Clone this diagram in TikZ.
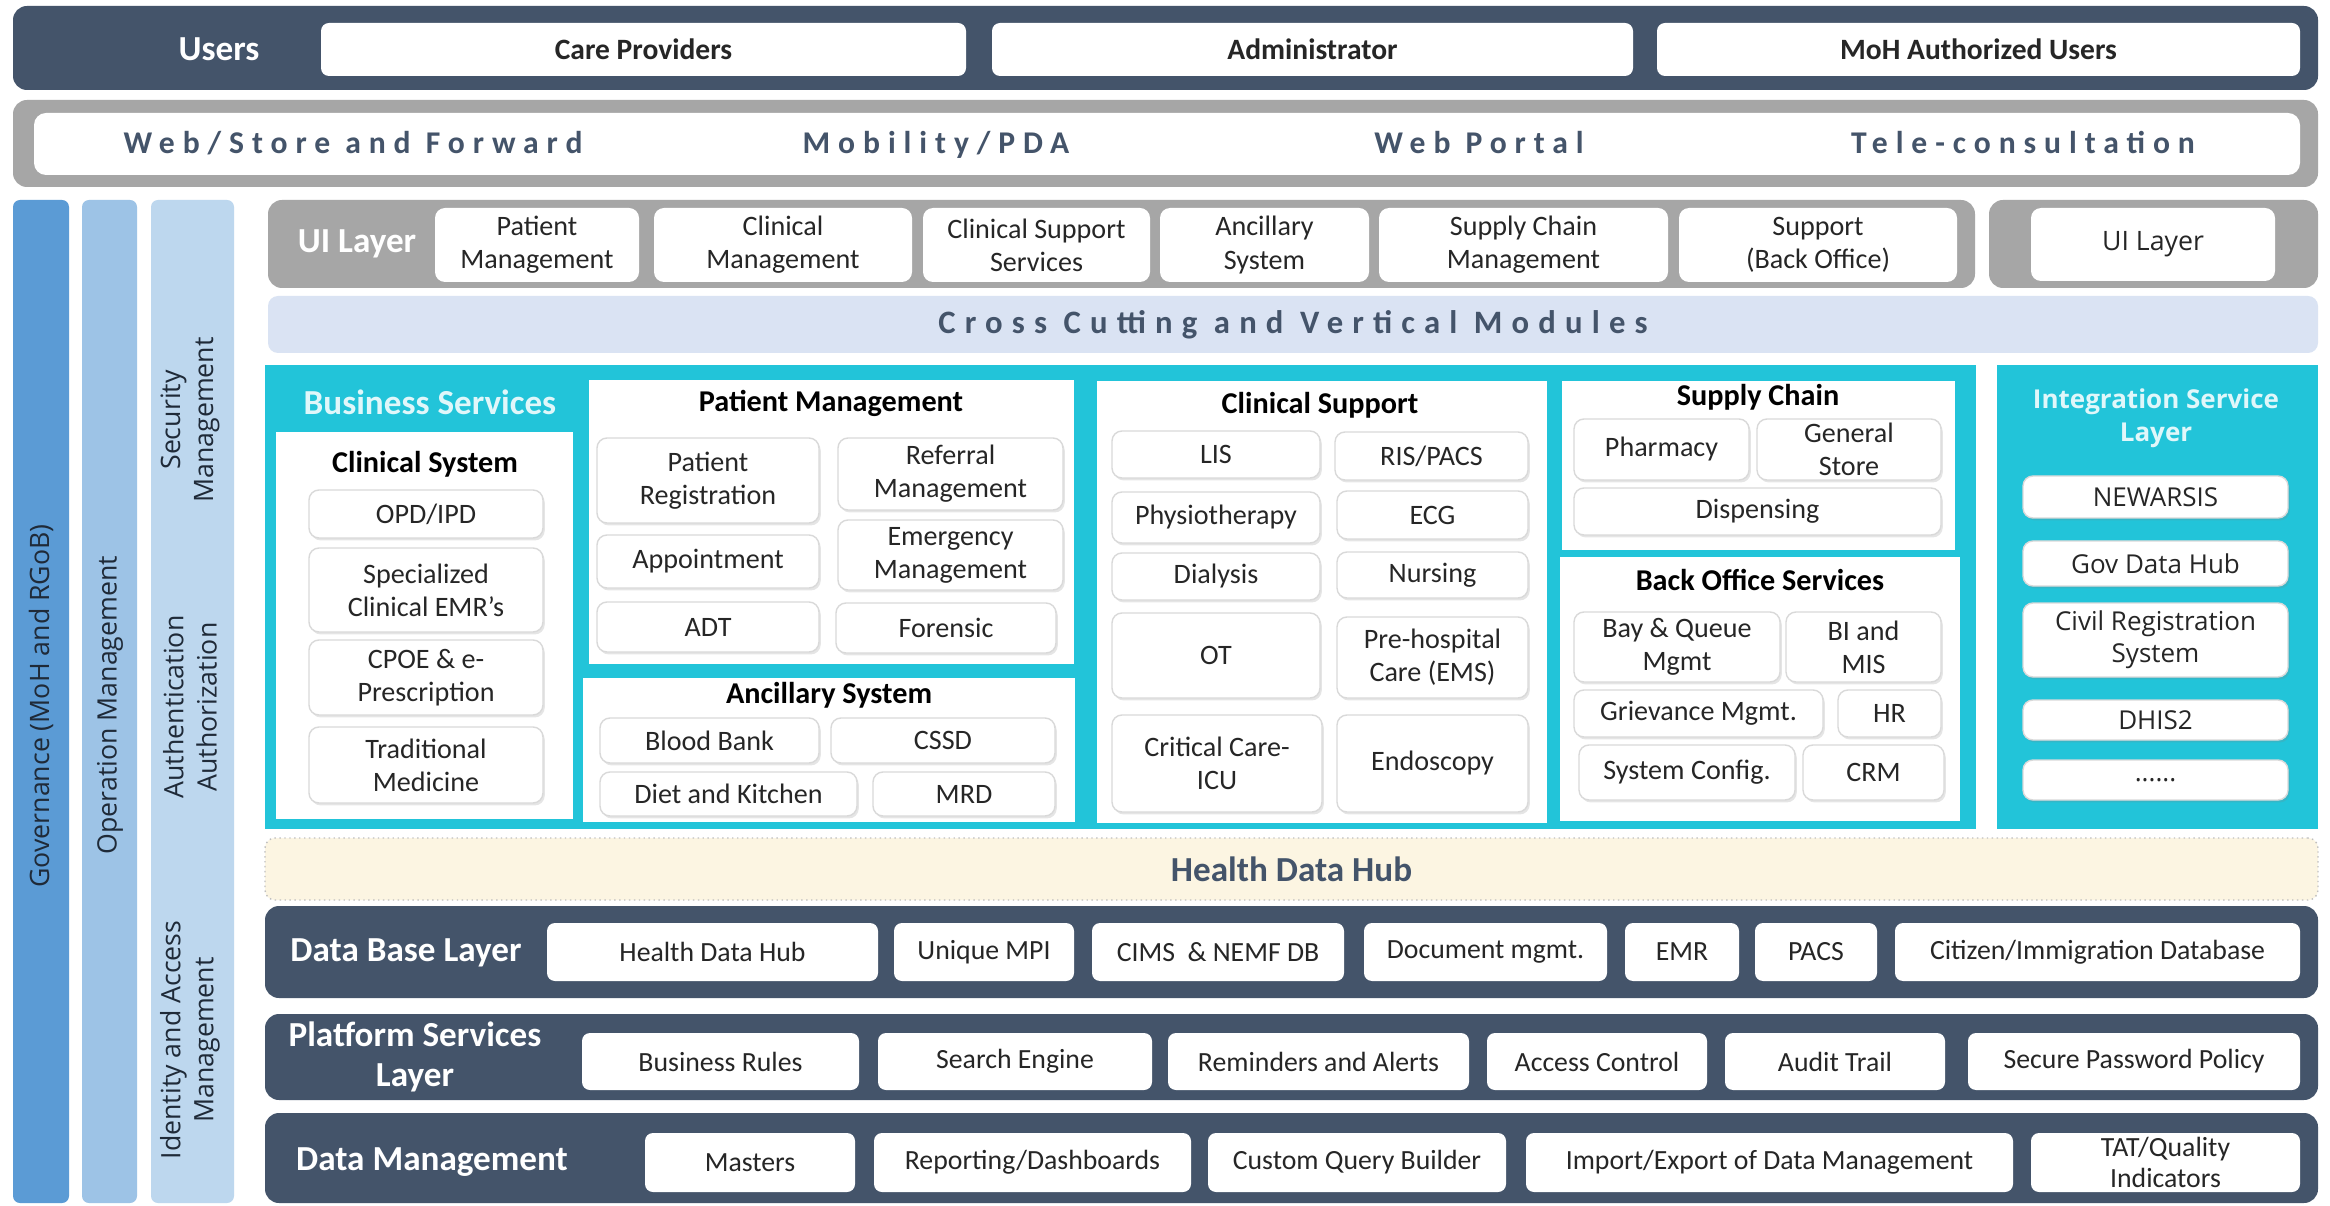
\documentclass[tikz,border=0pt]{standalone}
\usepackage{fontspec}
\setmainfont{Carlito}
\newfontfamily\osans{Open Sans}
\newfontfamily\wide[LetterSpace=25]{Carlito}
\newfontfamily\wider[LetterSpace=28]{Carlito}
\usetikzlibrary{fit}
\usetikzlibrary{shadows}
\definecolor{slate}{HTML}{44546A}
\definecolor{uigray}{HTML}{A6A6A6}
\definecolor{govblue}{HTML}{5B9BD5}
\definecolor{opblue}{HTML}{9DC3E6}
\definecolor{secblue}{HTML}{BDD7EE}
\definecolor{crossblue}{HTML}{DAE3F3}
\definecolor{aqua}{HTML}{22C4D9}
\definecolor{paleaqua}{HTML}{E0F7FA}
\definecolor{hubcream}{HTML}{FCF5E2}
\definecolor{ink}{HTML}{262626}
\definecolor{vink}{HTML}{1F2A38}

\begin{document}
\begin{tikzpicture}[x=0.1mm, y=-0.1mm,
    layerbar/.style={fill=slate, rounded corners=1.4mm, inner sep=0pt},
    graybar/.style={fill=uigray, rounded corners=1.4mm, inner sep=0pt},
    sidebar/.style={rounded corners=0.7mm, inner sep=0pt},
    sidelabel/.style={rotate=90, align=center, text=vink, font=\osans\fontsize{7.6}{9.4}\selectfont},
    barlabel/.style={align=center, text=white, font=\fontsize{10}{11.5}\selectfont\bfseries},
    usertext/.style={text=ink, font=\fontsize{8.4}{10}\selectfont\bfseries},
    userbox/.style={fill=white, rounded corners=0.8mm, inner sep=0pt, label={[usertext]center:{#1}}},
    spread/.style={text=slate, text height=1.55ex, text depth=0.45ex, font=\wide\fontsize{9}{11}\selectfont\bfseries},
    plaintext/.style={align=center, text=ink, font=\fontsize{8}{9.4}\selectfont},
    uibox/.style={fill=white, rounded corners=1mm, inner sep=0pt, label={[plaintext]center:{#1}}},
    panel/.style={fill=white, inner sep=0pt},
    paneltitle/.style={text=black, font=\fontsize{8.6}{10}\selectfont\bfseries},
    module/.style={fill=white, draw=black!15, rounded corners=1mm, inner sep=0pt, label={[plaintext]center:{#1}},
      drop shadow={opacity=0.2, shadow xshift=0.5pt, shadow yshift=-0.7pt}},
    inttext/.style={align=center, text=ink, font=\osans\fontsize{7.4}{9}\selectfont},
    intbox/.style={fill=white, draw=black!15, rounded corners=1mm, inner sep=0pt, label={[inttext]center:{#1}},
      drop shadow={opacity=0.2, shadow xshift=0.5pt, shadow yshift=-0.7pt}},
    layertext/.style={align=center, text=ink, font=\fontsize{7.9}{9}\selectfont},
    layerbox/.style={fill=white, rounded corners=0.8mm, inner sep=0pt, label={[layertext]center:{#1}}},
  ]
  \useasboundingbox[fill=white] (0,0) rectangle (2330,1206);

  % users
  \node[layerbar, fit={(13,6) (2318,90)}] (users) {};
  \node[barlabel] (usersT) at (219,49) {Users};
  \node[userbox={Care Providers}, fit={(321,23) (966,76)}] (care) {};
  \node[userbox={Administrator}, fit={(992,23) (1633,76)}] (admin) {};
  \node[userbox={MoH Authorized Users}, fit={(1657,23) (2300,76)}] (moh) {};

  % access channels
  \node[graybar, fit={(13,100) (2318,187)}] (chan) {};
  \node[fill=white, rounded corners=1.2mm, inner sep=0pt, fit={(34,113) (2300,175)}] (chanIn) {};
  \node[spread] (webT) at (353,144) {Web/Store and Forward};
  \node[spread] (mobT) at (936,144) {Mobility/PDA};
  \node[spread] (portT) at (1479,144) {Web Portal};
  \node[spread] (teleT) at (2023,144) {Tele-consultation};

  % side bars
  \node[sidebar, fill=govblue, fit={(13,200) (69,1203)}] (gov) {};
  \node[sidelabel] (govT) at (41,706) {Governance (MoH and RGoB)};
  \node[sidebar, fill=opblue, fit={(82,200) (137,1203)}] (ops) {};
  \node[sidelabel] (opsT) at (110,705) {Operation Management};
  \node[sidebar, fill=secblue, fit={(151,200) (234,1203)}] (sec) {};
  \node[sidelabel] (secT) at (190,420) {Security\\Management};
  \node[sidelabel] (authT) at (190,707) {Authentication\\Authorization};
  \node[sidelabel] (iamT) at (190,1040) {Identity and Access\\Management};

  % ui layer
  \node[graybar, fit={(268,200) (1975,288)}] (ui) {};
  \node[barlabel] (uiT) at (357,244) {UI Layer};
  \node[uibox={Patient\\Management}, fit={(435,208) (639,282)}] (uiPM) {};
  \node[uibox={Clinical\\Management}, fit={(654,208) (912,282)}] (uiCM) {};
  \node[uibox={Clinical Support\\Services}, fit={(923,208) (1150,282)}] (uiCS) {};
  \node[uibox={Ancillary\\System}, fit={(1160,208) (1369,282)}] (uiAS) {};
  \node[uibox={Supply Chain\\Management}, fit={(1379,208) (1668,282)}] (uiSC) {};
  \node[uibox={Support\\(Back Office)}, fit={(1679,208) (1957,282)}] (uiBO) {};
  \node[graybar, fit={(1989,200) (2318,288)}] (ui2) {};
  \node[fill=white, rounded corners=1mm, inner sep=0pt,
    label={[text=ink, font=\osans\fontsize{7.6}{9}\selectfont]center:UI Layer}, fit={(2031,208) (2275,281)}] (ui2B) {};

  \node[fill=crossblue, rounded corners=1mm, inner sep=0pt,
    label={[text=slate, font=\wider\fontsize{9.3}{11}\selectfont\bfseries]center:Cross Cutting and Vertical Modules},
    fit={(268,296) (2318,353)}] (cross) {};

  % business services
  \node[fill=aqua, inner sep=0pt, fit={(265,365) (1976,829)}] (biz) {};
  \node[text=paleaqua, font=\fontsize{10}{12}\selectfont\bfseries] (bizT) at (430,402) {Business Services};

  \node[panel, fit={(276,432) (573,819)}] (clin) {};
  \node[paneltitle] (clinT) at (425,464) {Clinical System};
  \node[module={OPD/IPD}, fit={(309,490) (543,538)}] (opd) {};
  \node[module={Specialized\\Clinical EMR’s}, fit={(309,548) (543,632)}] (emr) {};
  \node[module={CPOE \& e-\\Prescription}, fit={(309,640) (543,715)}] (cpoe) {};
  \node[module={Traditional\\Medicine}, fit={(309,727) (543,803)}] (trad) {};

  \node[panel, fit={(589,380) (1074,664)}] (pm) {};
  \node[paneltitle] (pmT) at (831,403) {Patient Management};
  \node[module={Patient\\Registration}, fit={(597,438) (819,523)}] (reg) {};
  \node[module={Referral\\Management}, fit={(838,438) (1063,510)}] (refr) {};
  \node[module={Appointment}, fit={(597,535) (819,588)}] (appt) {};
  \node[module={Emergency\\Management}, fit={(838,520) (1063,590)}] (emrg) {};
  \node[module={ADT}, fit={(597,602) (819,652)}] (adt) {};
  \node[module={Forensic}, fit={(836,603) (1056,653)}] (fors) {};

  \node[panel, fit={(583,678) (1075,822)}] (anc) {};
  \node[paneltitle] (ancT) at (829,695) {Ancillary System};
  \node[module={Blood Bank}, fit={(600,718) (819,763)}] (blood) {};
  \node[module={CSSD}, fit={(831,718) (1055,763)}] (cssd) {};
  \node[module={Diet and Kitchen}, fit={(600,772) (857,816)}] (diet) {};
  \node[module={MRD}, fit={(873,772) (1055,816)}] (mrd) {};

  \node[panel, fit={(1097,381) (1547,823)}] (csup) {};
  \node[paneltitle] (csupT) at (1320,405) {Clinical Support};
  \node[module={LIS}, fit={(1112,431) (1320,478)}] (lis) {};
  \node[module={RIS/PACS}, fit={(1335,432) (1528,480)}] (ris) {};
  \node[module={Physiotherapy}, fit={(1112,492) (1320,543)}] (physio) {};
  \node[module={ECG}, fit={(1337,491) (1528,539)}] (ecg) {};
  \node[module={Dialysis}, fit={(1112,553) (1320,600)}] (dial) {};
  \node[module={Nursing}, fit={(1337,552) (1528,598)}] (nurse) {};
  \node[module={OT}, fit={(1112,613) (1320,698)}] (ot) {};
  \node[module={Pre-hospital\\Care (EMS)}, fit={(1337,617) (1528,698)}] (ems) {};
  \node[module={Critical Care-\\ICU}, fit={(1112,715) (1322,812)}] (icu) {};
  \node[module={Endoscopy}, fit={(1337,715) (1528,812)}] (endo) {};

  \node[panel, fit={(1562,381) (1955,550)}] (supply) {};
  \node[paneltitle] (supplyT) at (1758,397) {Supply Chain};
  \node[module={Pharmacy}, fit={(1574,419) (1749,480)}] (pharm) {};
  \node[module={General\\Store}, fit={(1757,419) (1941,480)}] (store) {};
  \node[module={Dispensing}, fit={(1574,488) (1941,535)}] (disp) {};

  \node[panel, fit={(1560,557) (1960,821)}] (back) {};
  \node[paneltitle] (backT) at (1760,580) {Back Office Services};
  \node[module={Bay \& Queue\\Mgmt}, fit={(1574,612) (1780,682)}] (bay) {};
  \node[module={BI and\\MIS}, fit={(1786,612) (1941,682)}] (bimis) {};
  \node[module={Grievance Mgmt.}, fit={(1574,690) (1823,737)}] (griev) {};
  \node[module={HR}, fit={(1838,690) (1941,737)}] (hr) {};
  \node[module={System Config.}, fit={(1579,745) (1795,800)}] (sysconf) {};
  \node[module={CRM}, fit={(1803,745) (1944,800)}] (crm) {};

  % integration
  \node[fill=aqua, inner sep=0pt, fit={(1997,365) (2318,829)}] (integ) {};
  \node[align=center, text=paleaqua, font=\osans\fontsize{7.4}{9.4}\selectfont\bfseries] (integT) at (2156,418) {Integration Service\\Layer};
  \node[intbox={NEWARSIS}, fit={(2023,476) (2288,518)}] (newarsis) {};
  \node[intbox={Gov Data Hub}, fit={(2023,541) (2288,586)}] (govhub) {};
  \node[intbox={Civil Registration\\System}, fit={(2023,603) (2288,677)}] (civil) {};
  \node[intbox={DHIS2}, fit={(2023,700) (2288,740)}] (dhis) {};
  \node[intbox={......}, fit={(2023,760) (2288,800)}] (more) {};

  \node[fill=hubcream, draw=black!25, densely dotted, rounded corners=1mm, inner sep=0pt,
    label={[text=slate, font=\fontsize{10}{12}\selectfont\bfseries]center:Health Data Hub},
    fit={(265,838) (2318,900)}] (hub) {};

  % data base layer
  \node[layerbar, fit={(265,906) (2318,998)}] (db) {};
  \node[barlabel] (dbT) at (406,953) {Data Base Layer};
  \node[layerbox={Health Data Hub}, fit={(547,923) (878,981)}] (dbHub) {};
  \node[layerbox={Unique MPI}, fit={(894,923) (1074,981)}] (mpi) {};
  \node[layerbox={CIMS~ \& NEMF DB}, fit={(1092,923) (1344,981)}] (cims) {};
  \node[layerbox={Document mgmt.}, fit={(1364,923) (1607,981)}] (docs) {};
  \node[layerbox={EMR}, fit={(1625,923) (1739,981)}] (dbEmr) {};
  \node[layerbox={PACS}, fit={(1755,923) (1877,981)}] (pacs) {};
  \node[layerbox={Citizen/Immigration Database}, fit={(1895,923) (2300,981)}] (citizen) {};

  % platform services
  \node[layerbar, fit={(265,1014) (2318,1100)}] (plat) {};
  \node[barlabel] (platT) at (415,1057) {Platform Services\\Layer};
  \node[layerbox={Business Rules}, fit={(582,1033) (859,1090)}] (rules) {};
  \node[layerbox={Search Engine}, fit={(878,1033) (1152,1090)}] (search) {};
  \node[layerbox={Reminders and Alerts}, fit={(1168,1033) (1469,1090)}] (remind) {};
  \node[layerbox={Access Control}, fit={(1487,1033) (1707,1090)}] (access) {};
  \node[layerbox={Audit Trail}, fit={(1725,1033) (1945,1090)}] (audit) {};
  \node[layerbox={Secure Password Policy}, fit={(1968,1033) (2300,1090)}] (pwd) {};

  % data management
  \node[layerbar, fit={(265,1113) (2318,1203)}] (dm) {};
  \node[barlabel] (dmT) at (432,1162) {Data Management};
  \node[layerbox={Masters}, fit={(645,1133) (855,1192)}] (masters) {};
  \node[layerbox={Reporting/Dashboards}, fit={(874,1133) (1191,1192)}] (report) {};
  \node[layerbox={Custom Query Builder}, fit={(1208,1133) (1506,1192)}] (query) {};
  \node[layerbox={Import/Export of Data Management}, fit={(1526,1133) (2013,1192)}] (impexp) {};
  \node[layerbox={TAT/Quality\\Indicators}, fit={(2031,1133) (2300,1192)}] (tat) {};
\end{tikzpicture}
\end{document}
